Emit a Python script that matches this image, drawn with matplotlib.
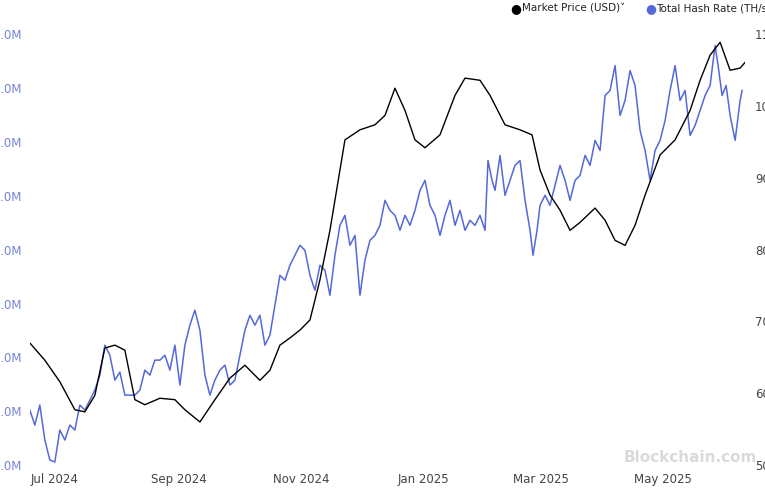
import matplotlib
matplotlib.use("Agg")
import matplotlib.pyplot as plt
import pandas as pd
from matplotlib.ticker import FuncFormatter

start = pd.Timestamp("2024-07-01")

hash_days = [-12.5 + 2.5 * i for i in range(92)] + [
    216.5, 218.5, 220, 222.5, 225, 227.5, 230, 232.5, 235, 237.5, 239, 241, 242.5, 245,
    247.5, 250, 252.5, 255, 257.5, 260, 262.5, 265, 267.5, 270, 272.5, 275, 277.5, 280,
    282.5, 285, 287.5, 290, 292.5, 295, 297.5, 300, 302.5, 305, 307.5, 310, 312.5, 315,
    317.5, 320, 322.5, 325, 327.5, 330, 331.5, 333.5, 335.5, 337.5, 340, 342.5, 343.5]
hash_rate = [
    601.0, 587.1, 605.7, 573.2, 554.6, 552.8, 582.5, 573.2, 587.1, 582.5, 605.7, 601.0,
    610.3, 619.6, 633.5, 661.3, 652.0, 628.8, 636.3, 614.9, 614.9, 614.9, 619.6, 638.1,
    633.5, 647.4, 647.4, 652.0, 638.1, 661.3, 624.2, 661.3, 679.9, 693.8, 675.2, 633.5,
    614.9, 628.8, 638.1, 642.8, 624.2, 628.8, 652.0, 675.2, 689.1, 679.9, 689.1, 661.3,
    670.6, 698.4, 726.2, 721.6, 735.5, 744.8, 754.1, 749.4, 726.2, 712.3, 735.5, 730.9,
    707.7, 744.8, 772.6, 781.9, 754.1, 763.3, 707.7, 740.2, 758.7, 763.3, 772.6, 795.8,
    786.5, 781.9, 768.0, 781.9, 772.6, 786.5, 805.1, 814.4, 791.2, 781.9, 763.3, 781.9,
    795.8, 772.6, 786.5, 768.0, 777.3, 772.6, 781.9, 768.0,
    832.9, 814.4, 805.1, 837.6, 800.5, 814.4, 828.3, 832.9, 795.8, 768.0, 744.8, 768.0,
    791.2, 800.5, 791.2, 809.7, 828.3, 814.4, 795.8, 814.4, 819.0, 837.6, 828.3, 851.5,
    842.2, 893.2, 897.9, 921.0, 874.7, 888.6, 916.4, 902.5, 860.7, 842.2, 814.4, 842.2,
    851.5, 870.0, 897.9, 921.0, 888.6, 897.9, 856.1, 865.4, 879.3, 893.2, 902.5, 939.6,
    921.0, 893.2, 902.5, 874.7, 851.5, 888.6, 897.9]

price_days = [-12.5, -5, 2.5, 10, 15, 20, 25, 30, 35, 40, 45, 52.5, 60, 65, 72.5, 80,
              87.5, 95, 102.5, 107.5, 112.5, 117.5, 122.5, 127.5, 132.5, 137.5, 145, 152.5,
              160, 165, 170, 175, 180, 185, 192.5, 200, 205, 212.5, 217.5, 225, 232.5, 238.5,
              242.5, 247.5, 252.5, 257.5, 262.5, 270, 275, 280, 285, 290, 295, 302.5, 310,
              317.5, 322.5, 327.5, 332.5, 337.5, 342.5, 345]
price = [67.0, 64.6, 61.6, 57.7, 57.4, 59.7, 66.3, 66.7, 66.0, 59.1, 58.4, 59.3, 59.1,
         57.7, 56.0, 59.1, 62.1, 63.9, 61.8, 63.2, 66.7, 67.7, 68.8, 70.2, 75.8, 82.7,
         95.3, 96.7, 97.4, 98.7, 102.5, 99.4, 95.3, 94.2, 96.0, 101.5, 103.9, 103.6, 101.5,
         97.4, 96.7, 96.0, 91.1, 87.6, 85.5, 82.7, 83.8, 85.8, 84.1, 81.3, 80.6, 83.4, 87.6,
         93.2, 95.3, 99.4, 103.6, 107.1, 108.9, 105.0, 105.3, 106.1]

hash_ticks = [550, 600, 650, 700, 750, 800, 850, 900, 950]
price_ticks = [50, 60, 70, 80, 90, 100, 110]
date_ticks = ["2024-07-01", "2024-09-01", "2024-11-01", "2025-01-01", "2025-03-01", "2025-05-01"]
date_labels = ["Jul 2024", "Sep 2024", "Nov 2024", "Jan 2025", "Mar 2025", "May 2025"]

hd = start + pd.to_timedelta(hash_days, unit="D")
pd_ = start + pd.to_timedelta(price_days, unit="D")

fig = plt.figure(figsize=(7.65, 4.95), dpi=100)
ax = fig.add_axes([0.039, 0.0606, 0.935, 0.870])
ax2 = ax.twinx()

blue = "#5468d9"
ax.plot(hd, hash_rate, color=blue, lw=1.1)
ax2.plot(pd_, price, color="black", lw=1.0)

ax.set_ylim(550, 950)
ax.set_yticks(hash_ticks)
ax.yaxis.set_major_formatter(FuncFormatter(lambda v, p: f"{v:.1f}M"))
ax2.set_ylim(50, 110)
ax2.set_yticks(price_ticks)
ax2.yaxis.set_major_formatter(FuncFormatter(lambda v, p: f"{int(v*1000):,}"))
ax.set_xlim(start + pd.Timedelta(days=-12.5), start + pd.Timedelta(days=345))
ax.set_xticks(pd.to_datetime(date_ticks))
ax.set_xticklabels(date_labels)

for a in (ax, ax2):
    for s in a.spines.values():
        s.set_visible(False)
    a.tick_params(length=0)
ax.tick_params(axis="y", colors="#7683d8", labelsize=8.5, pad=6)
ax.tick_params(axis="x", colors="#444444", labelsize=8.5, pad=6)
ax2.tick_params(axis="y", colors="#444444", labelsize=8.5, pad=7)

# legend
fig.text(0.667, 0.983, "\u25CF", color="black", fontsize=9, va="center")
fig.text(0.683, 0.983, "Market Price (USD)\u02C5", color="#222222", fontsize=7.5, va="center")
fig.text(0.843, 0.983, "\u25CF", color=blue, fontsize=9, va="center")
fig.text(0.858, 0.983, "Total Hash Rate (TH/s)", color="#222222", fontsize=7.5, va="center")

fig.text(0.815, 0.075, "Blockchain.com", color="#dadada", fontsize=11, fontweight="bold", va="center")

fig.savefig("out.png", dpi=100)
